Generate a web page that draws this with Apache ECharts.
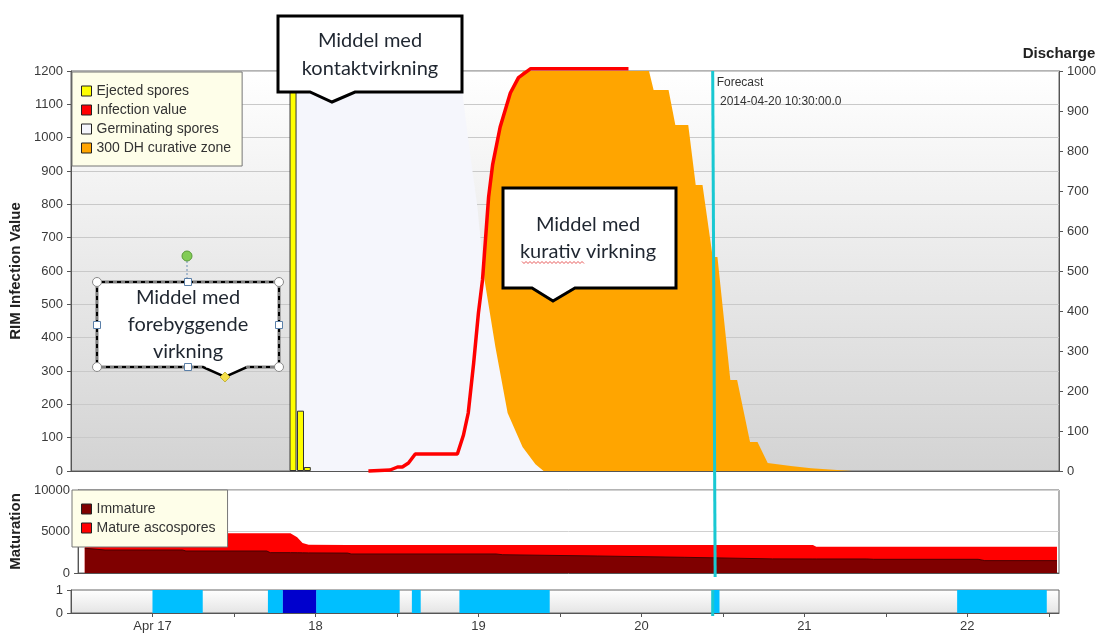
<!DOCTYPE html>
<html><head><meta charset="utf-8">
<script src="https://cdn.jsdelivr.net/npm/echarts@6/dist/echarts.min.js"></script>
<style>html,body{margin:0;padding:0;background:#fff}#c{width:1099px;height:634px}</style>
</head><body><div id="c"></div>
<script>
// x values are hours since 2014-04-16 00:00
const xMin = 12, xMax = 157.5;
const dayTickHours = [24, 48, 72, 96, 120, 144];
const dayTickLabels = ['Apr 17', '18', '19', '20', '21', '22'];
const halfDayTicks = [24, 36, 48, 60, 72, 84, 96, 108, 120, 132, 144, 156];
const forecastHour = 106.5;
const forecastLabel = 'Forecast\n 2014-04-20 10:30:00.0';

const ejectedHours = [44.7, 45.8, 46.8];
const ejectedValues = [1500, 181, 12];

const infectionHours = [55.8, 59.0, 60.1, 60.8, 61.7, 62.7, 68.9, 69.8, 70.5, 71.3, 72.0, 72.6, 73.5, 74.1, 75.2, 76.7, 77.9, 79.7, 94.1];
const infectionValues = [0, 3, 12, 12, 24, 51, 51, 108, 174, 324, 474, 573, 822, 920, 1032, 1134, 1180, 1207, 1207];

const germHours = [44.5, 44.55, 69.2, 69.6, 70.5, 71.85, 72.9, 74.5, 76.3, 78.5, 80.4, 81.6];
const germValues = [0, 1300, 1300, 1143, 993, 792, 573, 372, 174, 72, 20, 0];

const curativeHours = [70.0, 71.3, 72.0, 72.6, 73.5, 74.1, 75.2, 76.7, 77.9, 79.0, 97.0, 97.8, 100.0, 101.0, 102.9, 104.0, 105.0, 106.5, 107.2, 109.1, 110.1, 112.0, 113.1, 114.6, 118.0, 121.0, 127.0];
const curativeValues = [0, 300, 470, 570, 820, 920, 1030, 1134, 1180, 1210, 1210, 1143, 1143, 1038, 1038, 858, 858, 642, 642, 273, 273, 87, 87, 24, 15, 8, 0];

const matHours = [13, 16, 27.5, 28, 40, 40.5, 43.5, 44.5, 45.3, 46.2, 52, 52.5, 74, 75, 89, 102, 115, 121, 121.5, 129, 130, 145.5, 146.5, 157.2];
const immatureValues = [2980, 2770, 2770, 2650, 2650, 2450, 2450, 2440, 2430, 2420, 2400, 2290, 2290, 2200, 2050, 1890, 1700, 1690, 1690, 1690, 1650, 1650, 1490, 1490];
const matureValues = [1800, 2010, 2010, 2130, 2130, 2330, 2330, 1860, 1170, 980, 970, 1080, 1080, 1170, 1320, 1480, 1670, 1680, 1480, 1480, 1520, 1520, 1680, 1680];

const wetIntervals = [[24, 31.4], [41, 43.2], [48.1, 60.4], [62.2, 63.5], [69.2, 82.5], [106.4, 107.5], [142.5, 155.7]];
const veryWetIntervals = [[43.2, 48.1]];

const zip = (a, b) => a.map((v, i) => [v, b[i]]);
const stepData = iv => { const d = []; iv.forEach(([s, e]) => { d.push([s, 1]); d.push([e, 0]); }); return d; };
const matTotal = immatureValues.map((v, i) => v + matureValues[i]);

const FONT = 'Liberation Sans, Arial, sans-serif';
const lbl = { color: '#3a3a3a', fontSize: 13, fontFamily: FONT, formatter: v => String(v) };
const gridL = 71, gridW = 988;
const titleStyle = { fontWeight: 'bold', fontSize: 15, color: '#222', fontFamily: FONT };

function xAx(gi, showLabels) {
  return {
    type: 'value', gridIndex: gi, min: xMin, max: xMax,
    axisLine: { show: true, lineStyle: { color: '#555' } },
    axisTick: { show: showLabels, length: 4, lineStyle: { color: '#555' }, customValues: halfDayTicks },
    axisLabel: { show: showLabels, color: '#3a3a3a', fontSize: 13, fontFamily: FONT, margin: 7, customValues: dayTickHours,
      formatter: v => dayTickLabels[dayTickHours.indexOf(v)] },
    splitLine: { show: false }
  };
}

const chart = echarts.init(document.getElementById('c'), null, { renderer: 'canvas' });

const option = {
  animation: false,
  backgroundColor: '#fff',
  textStyle: { fontFamily: FONT },
  grid: [
    { left: gridL, top: 71, width: gridW, height: 400, show: true, borderColor: '#666', borderWidth: 1,
      backgroundColor: { type: 'linear', x: 0, y: 0, x2: 0, y2: 1, colorStops: [{ offset: 0, color: '#ffffff' }, { offset: 1, color: '#d3d3d3' }] } },
    { left: gridL, top: 490, width: gridW, height: 83, show: true, borderColor: '#666', borderWidth: 1, backgroundColor: '#fff' },
    { left: gridL, top: 590, width: gridW, height: 23, show: true, borderColor: '#666', borderWidth: 1,
      backgroundColor: { type: 'linear', x: 0, y: 0, x2: 0, y2: 1, colorStops: [{ offset: 0, color: '#ffffff' }, { offset: 1, color: '#e4e4e4' }] } }
  ],
  xAxis: [xAx(0, false), xAx(1, false), xAx(2, true)],
  yAxis: [
    { type: 'value', gridIndex: 0, min: 0, max: 1200, interval: 100, position: 'left',
      name: 'RIM Infection Value', nameLocation: 'middle', nameGap: 38, nameTextStyle: titleStyle,
      axisLine: { show: true, lineStyle: { color: '#555' } }, axisTick: { show: true, length: 4, lineStyle: { color: '#555' } },
      axisLabel: { ...lbl }, splitLine: { show: true, lineStyle: { color: '#c9c9c9', width: 1 } } },
    { type: 'value', gridIndex: 0, min: 0, max: 1000, interval: 100, position: 'right',
      name: 'Discharge', nameLocation: 'end', nameGap: 10, nameTextStyle: { ...titleStyle, align: 'center' },
      axisLine: { show: true, lineStyle: { color: '#555' } }, axisTick: { show: true, length: 4, lineStyle: { color: '#555' } },
      axisLabel: { ...lbl }, splitLine: { show: false } },
    { type: 'value', gridIndex: 1, min: 0, max: 10000, interval: 5000,
      name: 'Maturation', nameLocation: 'middle', nameGap: 47, nameTextStyle: titleStyle,
      axisLine: { show: true, lineStyle: { color: '#555' } }, axisTick: { show: true, length: 4, lineStyle: { color: '#555' } },
      axisLabel: { ...lbl }, splitLine: { show: true, lineStyle: { color: '#d0d0d0' } } },
    { type: 'value', gridIndex: 2, min: 0, max: 1, interval: 1,
      axisLine: { show: true, lineStyle: { color: '#555' } }, axisTick: { show: true, length: 4, lineStyle: { color: '#555' } },
      axisLabel: { ...lbl }, splitLine: { show: false } }
  ],
  legend: [
    { data: ['Ejected spores', 'Infection value', 'Germinating spores', '300 DH curative zone'],
      orient: 'vertical', left: 72, top: 72, icon: 'rect', itemWidth: 10, itemHeight: 10, itemGap: 5,
      padding: [12, 11, 11, 9], backgroundColor: '#fefee9', borderColor: '#777', borderWidth: 1,
      textStyle: { fontSize: 14, color: '#333', fontFamily: FONT },
      itemStyle: { borderColor: '#222', borderWidth: 1 }, selectedMode: false, z: 20 },
    { data: ['Immature', 'Mature ascospores'],
      orient: 'vertical', left: 72, top: 490, icon: 'rect', itemWidth: 10, itemHeight: 10, itemGap: 5,
      padding: [12, 12, 12, 9], backgroundColor: '#fefee9', borderColor: '#777', borderWidth: 1,
      textStyle: { fontSize: 14, color: '#333', fontFamily: FONT },
      itemStyle: { borderColor: '#222', borderWidth: 1 }, selectedMode: false, z: 20 }
  ],
  series: [
    { name: '300 DH curative zone', type: 'line', xAxisIndex: 0, yAxisIndex: 0, data: zip(curativeHours, curativeValues),
      symbol: 'none', lineStyle: { width: 0 }, itemStyle: { color: '#ffa500' }, areaStyle: { color: '#ffa500', opacity: 1 }, z: 2 },
    { name: 'Germinating spores', type: 'line', xAxisIndex: 0, yAxisIndex: 0, data: zip(germHours, germValues),
      symbol: 'none', lineStyle: { width: 0 }, itemStyle: { color: '#f5f6fc' }, areaStyle: { color: '#f5f6fc', opacity: 1 }, z: 3 },
    { name: 'Infection value', type: 'line', xAxisIndex: 0, yAxisIndex: 0, data: zip(infectionHours, infectionValues),
      symbol: 'none', clip: false, lineStyle: { width: 3.5, color: '#ff0000' }, itemStyle: { color: '#ff0000' }, z: 4 },
    { name: 'Ejected spores', type: 'bar', xAxisIndex: 0, yAxisIndex: 0, data: zip(ejectedHours, ejectedValues),
      barWidth: 7, itemStyle: { color: '#ffff00', borderColor: '#333', borderWidth: 1 }, z: 5 },
    { name: 'Mature ascospores', type: 'line', xAxisIndex: 1, yAxisIndex: 2, data: zip(matHours, matTotal),
      symbol: 'none', lineStyle: { width: 0 }, itemStyle: { color: '#ff0000' }, areaStyle: { color: '#ff0000', opacity: 1 }, z: 2 },
    { name: 'Immature', type: 'line', xAxisIndex: 1, yAxisIndex: 2, data: zip(matHours, immatureValues),
      symbol: 'none', lineStyle: { width: 1, color: '#4a0000' }, itemStyle: { color: '#7f0000' }, areaStyle: { color: '#7f0000', opacity: 1 }, z: 3 },
    { name: 'Wet', type: 'line', step: 'end', xAxisIndex: 2, yAxisIndex: 3, data: stepData(wetIntervals),
      symbol: 'none', lineStyle: { width: 0 }, itemStyle: { color: '#00bfff' }, areaStyle: { color: '#00bfff', opacity: 1 }, z: 2 },
    { name: 'Very wet', type: 'line', step: 'end', xAxisIndex: 2, yAxisIndex: 3, data: stepData(veryWetIntervals),
      symbol: 'none', lineStyle: { width: 0 }, itemStyle: { color: '#0000cd' }, areaStyle: { color: '#0000cd', opacity: 1 }, z: 3 }
  ]
};
chart.setOption(option);

// annotations
const CF = '20px Lato, "Open Sans", sans-serif';
const TC = '#1f2630';
function bubble(x1, y1, x2, y2, b1, tip, b2, lw) {
  return { type: 'polygon', z: 100, shape: { points: [[x1, y1], [x2, y1], [x2, y2], [b2, y2], tip, [b1, y2], [x1, y2]] },
    style: { fill: '#fff', stroke: '#000', lineWidth: lw, lineJoin: 'miter' } };
}
function txt(t, x, y) {
  return { type: 'text', z: 101, style: { text: t, x, y, align: 'center', verticalAlign: 'middle', font: CF, fill: TC } };
}
const squiggle = [];
for (let x = 522, k = 0; x <= 585; x += 2, k++) squiggle.push([x, 262 + (k % 2 ? 1.5 : -0.5)]);

const fTop = chart.convertToPixel({ xAxisIndex: 0, yAxisIndex: 0 }, [forecastHour, 1200]);
const fMid = chart.convertToPixel({ xAxisIndex: 1, yAxisIndex: 2 }, [forecastHour, 0]);
const fWTop = chart.convertToPixel({ xAxisIndex: 2, yAxisIndex: 3 }, [forecastHour, 1]);
const fWBot = chart.convertToPixel({ xAxisIndex: 2, yAxisIndex: 3 }, [forecastHour, 0]);

const graphics = [
  { type: 'line', z: 50, shape: { x1: fTop[0], y1: fTop[1], x2: fMid[0], y2: fMid[1] + 4 }, style: { stroke: '#19c8d2', lineWidth: 3 } },
  { type: 'line', z: 50, shape: { x1: fWTop[0], y1: fWTop[1], x2: fWBot[0], y2: fWBot[1] + 3 }, style: { stroke: '#19c8d2', lineWidth: 3 } },
  { type: 'text', z: 51, style: { text: forecastLabel, x: fTop[0] + 4, y: fTop[1] + 2, font: '12px ' + FONT, fill: '#333', lineHeight: 19 } },

  bubble(278, 16, 462, 92, 310, [332, 102], 355, 3),
  txt('Middel med', 370, 41), txt('kontaktvirkning', 370, 69),

  bubble(503, 188, 676, 288, 532, [553, 301], 575, 3),
  txt('Middel med', 588, 225), txt('kurativ virkning', 588, 252),
  { type: 'polyline', z: 102, shape: { points: squiggle }, style: { stroke: '#e03030', lineWidth: 0.8, fill: null } },

  bubble(97, 282, 279, 367, 203, [225, 377], 247, 2.5),
  { type: 'rect', z: 101, shape: { x: 97, y: 282, width: 182, height: 85 }, style: { fill: null, stroke: '#fff', lineWidth: 1, lineDash: [4, 4] } },
  txt('Middel med', 188, 298), txt('forebyggende', 188, 325), txt('virkning', 188, 352),
  { type: 'line', z: 102, shape: { x1: 187, y1: 261, x2: 187, y2: 282 }, style: { stroke: '#6a8db5', lineWidth: 1, lineDash: [2, 2] } },
  { type: 'circle', z: 103, shape: { cx: 187, cy: 256, r: 5 }, style: { fill: '#82cc55', stroke: '#5a9a3a', lineWidth: 1 } },
  ...[[97, 282], [279, 282], [97, 367], [279, 367]].map(p => ({ type: 'circle', z: 103, shape: { cx: p[0], cy: p[1], r: 4.5 }, style: { fill: '#fff', stroke: '#8a8a8a', lineWidth: 1 } })),
  ...[[188, 282], [188, 367], [97, 325], [279, 325]].map(p => ({ type: 'rect', z: 103, shape: { x: p[0] - 3.5, y: p[1] - 3.5, width: 7, height: 7 }, style: { fill: '#fff', stroke: '#5a7fa8', lineWidth: 1 } })),
  { type: 'polygon', z: 103, shape: { points: [[225, 372], [230, 377], [225, 382], [220, 377]] }, style: { fill: '#f5e04a', stroke: '#b8a830', lineWidth: 0.8 } }
];
chart.setOption({ graphic: graphics });
</script>
</body></html>
